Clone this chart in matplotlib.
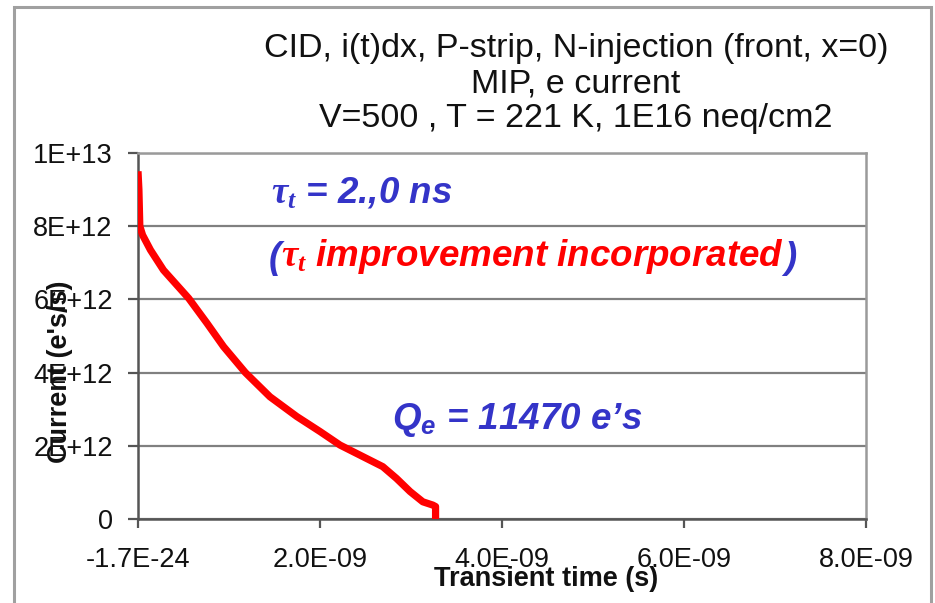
import matplotlib
matplotlib.use("Agg")
import matplotlib.pyplot as plt
from matplotlib.patches import Rectangle
from matplotlib.ticker import FixedLocator, FixedFormatter

# Electron current transient (time in ns, current in 1e12 e's/s)
time_ns = [0.0, 0.01, 0.02, 0.05, 0.137, 0.28, 0.557, 0.758, 0.94, 1.18,
           1.45, 1.745, 2.00, 2.22, 2.475, 2.69, 2.84, 2.99, 3.13, 3.24,
           3.27, 3.27]
current_e12 = [9.50, 9.0, 8.0, 7.76, 7.35, 6.80, 6.03, 5.35, 4.71, 4.00,
               3.34, 2.80, 2.39, 2.02, 1.70, 1.43, 1.11, 0.75, 0.47, 0.38,
               0.34, 0.0]

x_ticks = [0.0, 2e-9, 4e-9, 6e-9, 8e-9]
x_tick_labels = ["-1.7E-24", "2.0E-09", "4.0E-09", "6.0E-09", "8.0E-09"]
y_ticks = [0, 2e12, 4e12, 6e12, 8e12, 1e13]
y_tick_labels = ["0", "2E+12", "4E+12", "6E+12", "8E+12", "1E+13"]

title_lines = ["CID, i(t)dx, P-strip, N-injection (front, x=0)",
               "MIP, e current",
               "V=500 , T = 221 K, 1E16 neq/cm2"]

plt.rcParams["font.family"] = ["Liberation Sans", "DejaVu Sans"]
plt.rcParams["mathtext.fontset"] = "custom"
plt.rcParams["mathtext.it"] = "Liberation Serif:italic:bold"
plt.rcParams["mathtext.rm"] = "Liberation Serif:bold"
plt.rcParams["mathtext.sf"] = "Liberation Sans:italic:bold"

W, H = 935, 603
fig = plt.figure(figsize=(W / 100, H / 100), dpi=100)
fig.patch.set_facecolor("white")


def fx(px):
    return px / W


def fy(py):
    return 1 - py / H


ax = fig.add_axes([fx(138), fy(519), fx(866) - fx(138), fy(153) - fy(519)])

t_s = [t * 1e-9 for t in time_ns]
cur = [c * 1e12 for c in current_e12]
ax.plot(t_s, cur, color="#ff0000", lw=5.2, solid_joinstyle="round",
        solid_capstyle="butt", zorder=3)

ax.set_xlim(0, 8e-9)
ax.set_ylim(0, 1e13)
ax.xaxis.set_major_locator(FixedLocator(x_ticks))
ax.xaxis.set_major_formatter(FixedFormatter(x_tick_labels))
ax.yaxis.set_major_locator(FixedLocator(y_ticks))
ax.yaxis.set_major_formatter(FixedFormatter(y_tick_labels))

ax.grid(axis="y", color="#808080", lw=1.6, zorder=1)
ax.set_axisbelow(True)

for side in ("top", "right"):
    ax.spines[side].set_color("#9a9a9a")
    ax.spines[side].set_linewidth(1.8)
ax.spines["left"].set_color("#555555")
ax.spines["left"].set_linewidth(1.8)
ax.spines["bottom"].set_color("#555555")
ax.spines["bottom"].set_linewidth(1.8)

ax.tick_params(axis="y", direction="out", length=7.2, width=1.6,
               color="#555555", pad=11, labelsize=19.5, labelcolor="#111111")
ax.tick_params(axis="x", direction="out", length=6.5, width=1.6,
               color="#555555", pad=14, labelsize=19.5, labelcolor="#111111")

ax.set_xlabel("Transient time (s)", fontsize=19.5, fontweight="bold",
              color="#111111", va="center")
ax.xaxis.set_label_coords((546 - 138) / 728, (519 - 579) / 366)
ax.set_ylabel("Current (e's/s)", fontsize=19.5, fontweight="bold",
              color="#111111", va="center")
ax.yaxis.set_label_coords((60 - 138) / 728, (519 - 372) / 366)

# Title block
for text, ypx in zip(title_lines, [49, 84, 119]):
    fig.text(fx(576), fy(ypx), text, ha="center", va="center",
             fontsize=24.5, color="#111111")

blue = "#3434c8"
red = "#ff0000"
note_kw = dict(fontsize=26.5, fontweight="bold", fontstyle="italic")

fig.text(fx(271), fy(193), r"$\tau_t$ = 2.,0 ns", ha="left", va="center",
         color=blue, **note_kw)

p_open = fig.text(fx(269), fy(258), "(", ha="left", va="center",
                  color=blue, **note_kw)
mid = ax.annotate(r"$\tau_t$ improvement incorporated", xy=(1, 0),
                  xycoords=p_open, ha="left", va="bottom", color=red,
                  annotation_clip=False, **note_kw)
ax.annotate(")", xy=(1, 0), xycoords=mid, ha="left", va="bottom",
            color=blue, annotation_clip=False, **note_kw)

fig.text(fx(392), fy(420), "Q$_{\\mathsf{e}}$ = 11470 e\u2019s",
         ha="left", va="center", color=blue, **note_kw)

# Outer frame
fig.add_artist(Rectangle((fx(14), -0.05), fx(931) - fx(14), fy(7) + 0.05,
                         transform=fig.transFigure, fill=False,
                         edgecolor="#a0a0a0", lw=2.2))

fig.savefig("out.png", dpi=100)
